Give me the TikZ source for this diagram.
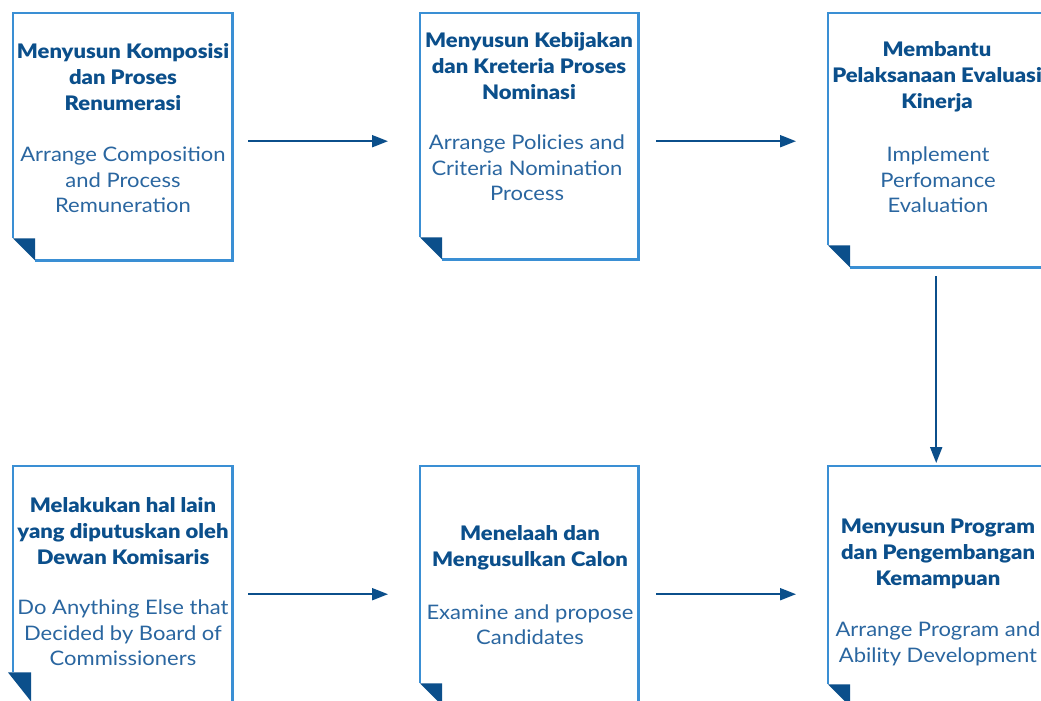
\documentclass[tikz,border=0pt]{standalone}
\usepackage{fontspec}
\setmainfont{Lato}[BoldFont=* Black, FakeStretch=1.1]
\usetikzlibrary{arrows.meta,calc}
\definecolor{edgeblue}{HTML}{3A8FD4}
\definecolor{darkblue}{HTML}{0B4F8B}
\definecolor{textblue}{HTML}{2A66A0}
\begin{document}
\begin{tikzpicture}[x=1pt,y=-1pt,
  docbox/.style={draw=none,inner sep=0pt,anchor=north west},
  outline/.style={draw=edgeblue,line width=2.4pt},
  fold/.style={fill=darkblue},
  title/.style={font=\bfseries\fontsize{20}{26}\selectfont,text=darkblue,align=center,inner sep=0pt},
  sub/.style={font=\fontsize{20}{25.5}\selectfont,text=textblue,align=center,inner sep=0pt},
  flow/.style={draw=darkblue,line width=2pt,-{Triangle[length=16pt,width=12pt]}}]
\useasboundingbox (0,0) rectangle (1041,701);
\fill[white] (0,0) rectangle (1041,701);

% document boxes
\node[docbox,minimum width=219pt,minimum height=247pt] (b1) at (13,13) {};
\node[docbox,minimum width=218pt,minimum height=246pt] (b2) at (420,13) {};
\node[docbox,minimum width=218pt,minimum height=254pt] (b3) at (828,13) {};
\node[docbox,minimum width=219pt,minimum height=236pt] (b4) at (13,466) {};
\node[docbox,minimum width=218pt,minimum height=239pt] (b5) at (420,466) {};
\node[docbox,minimum width=218pt,minimum height=240pt] (b6) at (828,466) {};

% outlines with the folded lower-left corner
\foreach \b in {b1,b2,b3,b5,b6}{
  \draw[outline] ([yshift=22pt]\b.south west) -- (\b.north west) -- (\b.north east)
     -- (\b.south east) -- ([xshift=22pt]\b.south west);
  \fill[fold] ([yshift=22pt]\b.south west) -- ([xshift=22pt,yshift=22pt]\b.south west)
     -- ([xshift=22pt]\b.south west) -- cycle;
}
\draw[outline] ([yshift=30pt]b4.south west) -- (b4.north west) -- (b4.north east)
   -- (b4.south east);
\fill[fold] ([xshift=-5pt,yshift=30pt]b4.south west) -- ([xshift=18pt,yshift=30pt]b4.south west)
   -- ([xshift=18pt,yshift=1pt]b4.south west) -- cycle;

% texts
\node[title] (t1) at (123,77) {Menyusun Komposisi\\dan Proses\\Renumerasi};
\node[sub]   (s1) at (123,180) {Arrange Composition\\and Process\\Remuneration};
\node[title] (t2) at (529,66) {Menyusun Kebijakan\\dan Kreteria Proses\\Nominasi};
\node[sub]   (s2) at (527,168) {Arrange Policies and\\Criteria Nomination\\Process};
\node[title] (t3) at (937,77) {Membantu\\Pelaksanaan Evaluasi\\Kinerja};
\node[sub]   (s3) at (938,180) {Implement\\Perfomance\\Evaluation};
\node[title] (t4) at (123,531) {Melakukan hal lain\\yang diputuskan oleh\\Dewan Komisaris};
\node[sub]   (s4) at (123,633) {Do Anything Else that\\Decided by Board of\\Commissioners};
\node[title] (t5) at (530,548) {Menelaah dan\\Mengusulkan Calon};
\node[sub]   (s5) at (530,624.5) {Examine and propose\\Candidates};
\node[title] (t6) at (938,554) {Menyusun Program\\dan Pengembangan\\Kemampuan};
\node[sub]   (s6) at (938,644) {Arrange Program and\\Ability Development};

% connectors
\draw[flow,shorten <=16pt,shorten >=32pt] ([yshift=-4.5pt]b1.east) -- ([yshift=-5pt]b2.west);
\draw[flow,shorten <=18pt,shorten >=32pt] ([yshift=-5pt]b2.east) -- ([yshift=-1pt]b3.west);
\draw[flow,shorten <=9pt,shorten >=3pt] ([xshift=-1pt]b3.south) -- ([xshift=-1pt]b6.north);
\draw[flow,shorten <=16pt,shorten >=32pt] ([yshift=-10pt]b4.east) -- ([yshift=-8.5pt]b5.west);
\draw[flow,shorten <=18pt,shorten >=32pt] ([yshift=-8.5pt]b5.east) -- ([yshift=-8pt]b6.west);
\end{tikzpicture}
\end{document}
